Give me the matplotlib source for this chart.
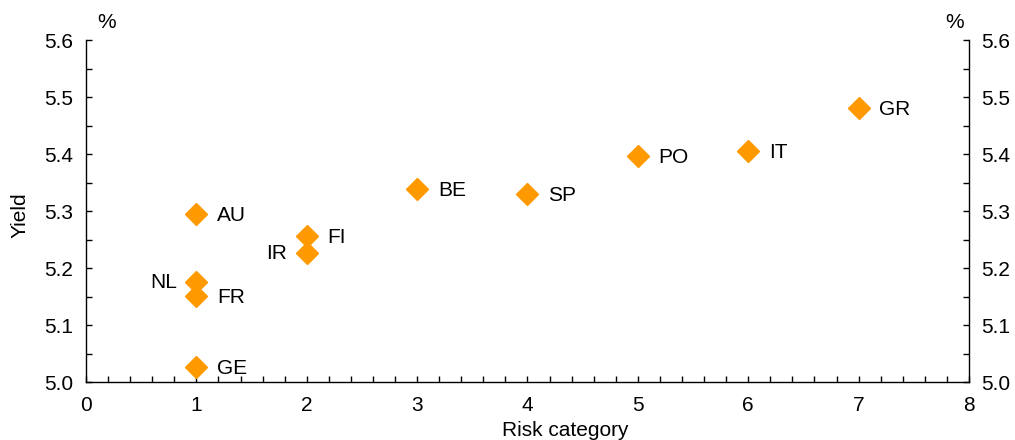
import matplotlib

matplotlib.use("Agg")
import matplotlib.pyplot as plt
from matplotlib.ticker import MultipleLocator, FormatStrFormatter

plt.rcParams["font.family"] = ["Liberation Sans", "DejaVu Sans"]

countries = ["AU", "NL", "FR", "GE", "FI", "IR", "BE", "SP", "PO", "IT", "GR"]
risk = [1, 1, 1, 1, 2, 2, 3, 4, 5, 6, 7]
yields = [5.295, 5.175, 5.151, 5.026, 5.256, 5.226, 5.339, 5.330, 5.396, 5.405, 5.481]
left_labels = {"NL", "IR"}

ORANGE = "#FF9900"
FS = 15

fig = plt.figure(figsize=(10.15, 4.4), dpi=100)
ax = fig.add_axes([0.0847, 0.1318, 0.87, 0.7772])

ax.plot(risk, yields, "D", color=ORANGE, markersize=11, linestyle="none")
for c, x, y in zip(countries, risk, yields):
    if c in left_labels:
        ax.annotate(c, (x, y), xytext=(-14, 0), textcoords="offset points",
                    ha="right", va="center", fontsize=FS)
    else:
        ax.annotate(c, (x, y), xytext=(15, -1), textcoords="offset points",
                    ha="left", va="center", fontsize=FS)

ax.set_xlim(0, 8)
ax.set_ylim(5.0, 5.6)
ax.xaxis.set_major_locator(MultipleLocator(1))
ax.xaxis.set_minor_locator(MultipleLocator(0.2))
ax.yaxis.set_major_locator(MultipleLocator(0.1))
ax.yaxis.set_minor_locator(MultipleLocator(0.05))
ax.yaxis.set_major_formatter(FormatStrFormatter("%.1f"))
ax.spines["top"].set_visible(False)
for s in ("left", "right", "bottom"):
    ax.spines[s].set_linewidth(1.0)

ax.tick_params(axis="both", which="both", direction="in", labelsize=FS,
               width=1.0, length=4)
ax.tick_params(axis="x", which="major", pad=10)
ax.tick_params(axis="y", which="both", right=True, labelright=True, pad=9)

fig.text(565 / 1015, 1 - 430 / 440, "Risk category", fontsize=FS,
         ha="center", va="center")
fig.text(20 / 1015, 1 - 215 / 440, "Yield", fontsize=FS, rotation=90,
         ha="center", va="center")

fig.text(107 / 1015, 1 - 22 / 440, "%", fontsize=FS, ha="center", va="center")
fig.text(955 / 1015, 1 - 22 / 440, "%", fontsize=FS, ha="center", va="center")

fig.savefig("out.png")
